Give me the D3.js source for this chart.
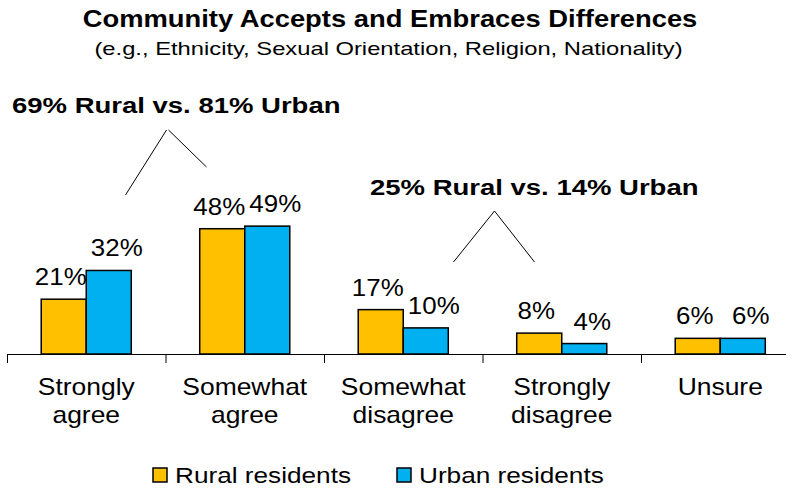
<!DOCTYPE html>
<html>
<head>
<meta charset="utf-8">
<script src="https://cdn.jsdelivr.net/npm/d3@7"></script>
<style>
  body { margin: 0; background: #fff; }
  text { font-family: 'Liberation Sans', Arial, sans-serif; fill: #000; }
  .axis path, .axis line { stroke: #000; stroke-width: 1; }
</style>
</head>
<body>
<div id="chart"></div>
<script>
// data
var categories = ['Strongly agree', 'Somewhat agree', 'Somewhat disagree', 'Strongly disagree', 'Unsure'];
var categoryLines = [['Strongly', 'agree'], ['Somewhat', 'agree'], ['Somewhat', 'disagree'], ['Strongly', 'disagree'], ['Unsure']];
var series = ['Rural residents', 'Urban residents'];
var rural = [21, 48, 17, 8, 6];
var urban = [32, 49, 10, 4, 6];
var colors = ['#FFC000', '#00B0F0'];
var title = 'Community Accepts and Embraces Differences';
var subtitle = '(e.g., Ethnicity, Sexual Orientation, Religion, Nationality)';
var notes = ['69% Rural vs. 81% Urban', '25% Rural vs. 14% Urban'];

// setup canvas parameter
var width = 786, height = 489;
var left = 7, catWidth = 158.5, baseY = 354;

var svg = d3.select('#chart')
    .append('svg')
    .attr('width', width)
    .attr('height', height);

// text drawn slightly wide, like the original
function addText(x, y, str, size, weight, anchor, sx) {
    return svg.append('text')
        .attr('transform', 'translate(' + x + ',' + y + ') scale(' + sx + ',1)')
        .attr('text-anchor', anchor)
        .style('font-size', size + 'px')
        .style('font-weight', weight)
        .text(str);
}

// scales
var x0 = d3.scaleBand()
    .domain(categories)
    .range([left, left + catWidth * categories.length]);

var x1 = d3.scaleBand()
    .domain(series)
    .range([0, x0.bandwidth()])
    .paddingOuter(0.76);

var yScale = d3.scaleLinear()
    .domain([0, 60])
    .range([baseY, baseY - 2.61 * 60]);

var rows = categories.map(function(c, i){
    return { cat: c, values: [
        { s: series[0], v: rural[i] },
        { s: series[1], v: urban[i] }
    ]};
});

// bars
var groups = svg.selectAll('.grp')
    .data(rows)
    .enter()
    .append('g')
    .attr('class', 'grp')
    .attr('transform', function(d){ return 'translate(' + x0(d.cat) + ',0)'; });

groups.selectAll('rect')
    .data(function(d){ return d.values; })
    .enter()
    .append('rect')
    .attr('x', function(d){ return x1(d.s); })
    .attr('y', function(d){ return yScale(d.v); })
    .attr('width', x1.bandwidth())
    .attr('height', function(d){ return baseY - yScale(d.v); })
    .attr('fill', function(d, i){ return colors[i]; })
    .attr('stroke', '#000')
    .attr('stroke-width', 1.5);

// value labels
rows.forEach(function(r){
    r.values.forEach(function(d, i){
        var cx = x0(r.cat) + x1(d.s) + x1.bandwidth() / 2 + (i === 0 ? -3 : 8);
        addText(cx, yScale(d.v) - 14, d.v + '%', 24, 'normal', 'middle', 1.08);
    });
});

// axis
var xIdx = d3.scaleLinear().domain([0, categories.length]).range(x0.range());
svg.append('g')
    .attr('class', 'axis')
    .attr('transform', 'translate(0,' + baseY + ')')
    .call(d3.axisBottom(xIdx)
        .tickValues(d3.range(categories.length + 1))
        .tickSize(9)
        .tickSizeOuter(0)
        .tickFormat(''));

// category labels
categoryLines.forEach(function(lines, i){
    var cx = x0(categories[i]) + x0.bandwidth() / 2;
    lines.forEach(function(t, j){
        addText(cx, 395 + j * 28, t, 23, 'normal', 'middle', 1.15);
    });
});

// titles
addText(390, 27, title, 23, 'bold', 'middle', 1.19);
addText(388.5, 55, subtitle, 19, 'normal', 'middle', 1.25);

// annotations
addText(12, 113, notes[0], 22, 'bold', 'start', 1.25);
addText(370, 195, notes[1], 22, 'bold', 'start', 1.25);

var b1 = x0(categories[1]), b3 = x0(categories[3]);
var brackets = [
    [[b1 - 40, 195], [b1 + 1, 130]],
    [[b1 + 3, 130], [b1 + 41, 167]],
    [[b3 - 29, 262], [b3 + 12, 211]],
    [[b3 + 12, 211], [b3 + 52, 262]]
];
brackets.forEach(function(p){
    svg.append('line')
        .attr('x1', p[0][0]).attr('y1', p[0][1])
        .attr('x2', p[1][0]).attr('y2', p[1][1])
        .attr('stroke', '#000')
        .attr('stroke-width', 1);
});

// legend
var legendX = [153, 397];
series.forEach(function(s, i){
    svg.append('rect')
        .attr('x', legendX[i])
        .attr('y', 468)
        .attr('width', 14)
        .attr('height', 14)
        .attr('fill', colors[i])
        .attr('stroke', '#000')
        .attr('stroke-width', 1.5);
    addText(legendX[i] + 22, 483, s, 22, 'normal', 'start', 1.19);
});
</script>
</body>
</html>
